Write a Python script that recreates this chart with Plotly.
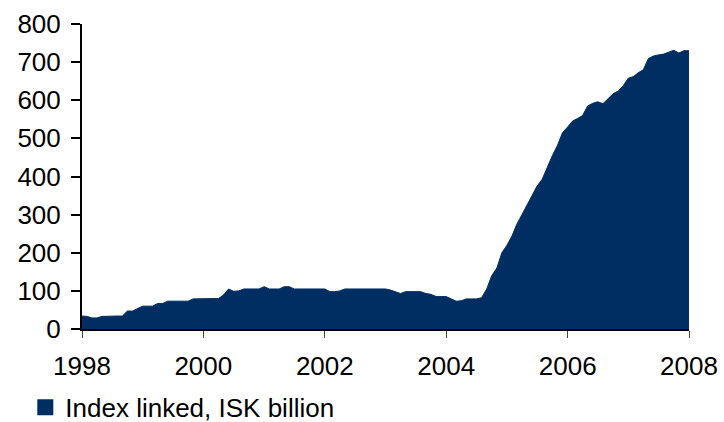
import pandas as pd
import plotly.graph_objects as go

start_month = "1998-01-01"
index_linked = [
    34, 33, 29, 29, 33, 34, 34, 34, 34, 47, 47, 53,          # 1998
    60, 60, 60, 67, 67, 73, 73, 73, 73, 73, 79, 79,          # 1999
    79, 79, 79, 80, 89, 105, 99, 100, 105, 105, 105, 105,    # 2000
    111, 105, 105, 105, 111, 111, 105, 105, 105, 105, 105, 105,  # 2001
    105, 98, 98, 100, 105, 105, 105, 105, 105, 105, 105, 105,    # 2002
    105, 102, 97, 93, 98, 98, 98, 98, 93, 91, 85, 85,        # 2003
    85, 79, 73, 74, 79, 79, 79, 82, 105, 140, 160, 200,      # 2004
    220, 245, 275, 300, 325, 350, 375, 393, 425, 455, 482, 515,  # 2005
    530, 546, 552, 560, 585, 592, 596, 591, 604, 617, 624, 638,  # 2006
    658, 662, 672, 680, 709, 716, 719, 721, 726, 731, 724, 730,  # 2007
    730,                                                      # 2008
]
series_name = "Index linked, ISK billion"
x_tick_labels = ["1998", "2000", "2002", "2004", "2006", "2008"]
y_ticks = [0, 100, 200, 300, 400, 500, 600, 700, 800]

dates = pd.date_range(start_month, periods=len(index_linked), freq="MS")
navy = "#002D62"
font_family = "Liberation Sans, Arial, sans-serif"

fig = go.Figure()
fig.add_trace(go.Scatter(
    x=dates, y=index_linked, mode="lines", fill="tozeroy",
    line=dict(color=navy, width=1), fillcolor=navy, showlegend=False,
    hoverinfo="skip",
))
fig.add_trace(go.Scatter(
    x=[None], y=[None], mode="markers", name=series_name,
    marker=dict(symbol="square", size=18, color=navy), showlegend=True,
))

fig.update_layout(
    width=724, height=422,
    margin=dict(l=82, r=35, t=24, b=93, autoexpand=False),
    paper_bgcolor="white", plot_bgcolor="white",
    font=dict(family=font_family, size=26, color="black"),
    showlegend=True,
    legend=dict(
        orientation="h", x=-0.0934, xanchor="left", y=-0.18, yanchor="top",
        font=dict(size=26), itemwidth=30, bgcolor="rgba(0,0,0,0)",
    ),
)
fig.update_xaxes(
    range=["1998-01-01", "2008-01-01"],
    tickvals=[f"{y}-01-01" for y in x_tick_labels], ticktext=x_tick_labels,
    ticks="outside", ticklen=7, tickwidth=1, tickcolor="#444",
    showline=True, linecolor="black", linewidth=2,
    showgrid=False, zeroline=False, automargin=False,
    tickfont=dict(size=26), ticklabelstandoff=6,
)
fig.update_yaxes(
    range=[0, 800], tickvals=y_ticks,
    ticks="outside", ticklen=9, tickwidth=2, tickcolor="black",
    showline=True, linecolor="black", linewidth=2,
    showgrid=False, zeroline=False, automargin=False,
    tickfont=dict(size=26), ticklabelstandoff=5,
)

fig.write_html("out.html", config={"displayModeBar": False},
               post_script="document.body.style.margin='0';")
